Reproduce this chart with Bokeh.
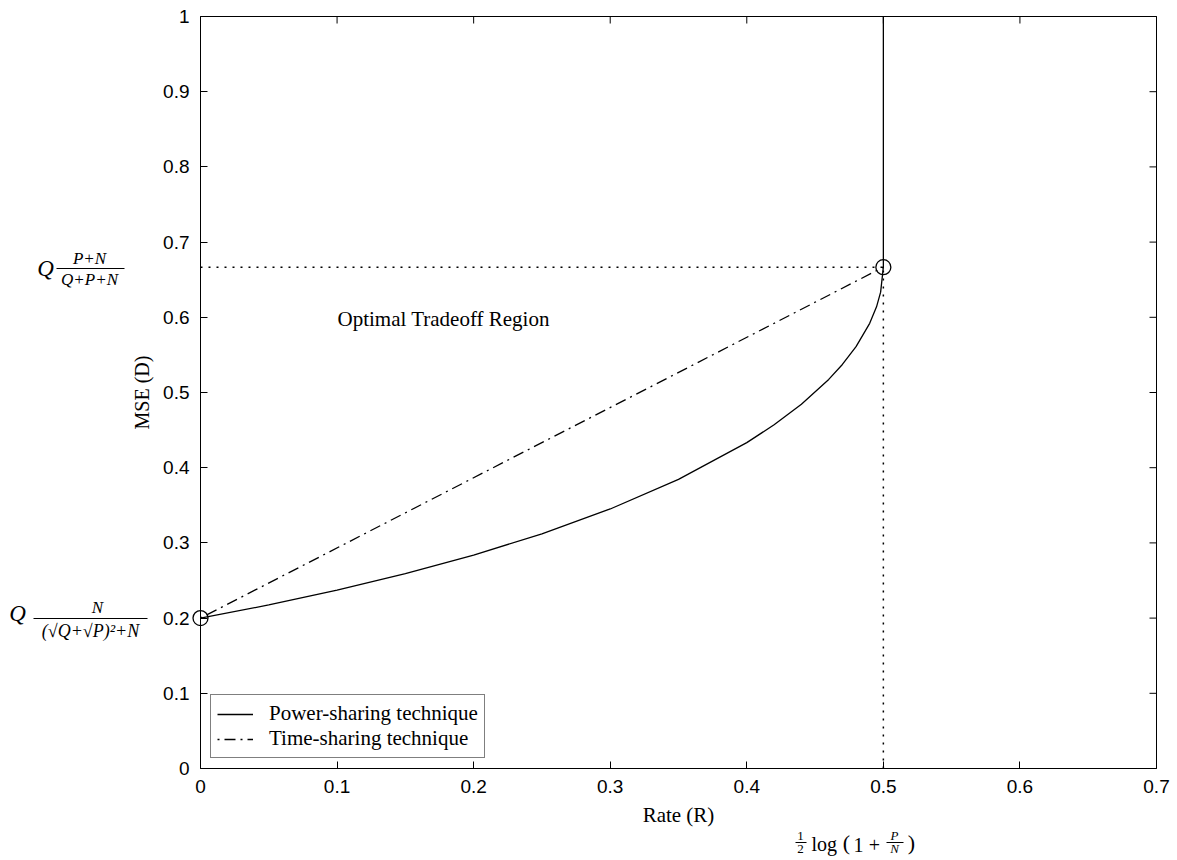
from bokeh.plotting import figure
from bokeh.models import Range1d, FixedTicker, Label, Arrow, Legend, LegendItem
from bokeh.embed import file_html
from bokeh.resources import INLINE

# ---------------- data ----------------
x_ticks = [0, 0.1, 0.2, 0.3, 0.4, 0.5, 0.6, 0.7]
y_ticks = [0, 0.1, 0.2, 0.3, 0.4, 0.5, 0.6, 0.7, 0.8, 0.9, 1.0]

rate_power = [0.0, 0.05, 0.10, 0.15, 0.20, 0.25, 0.30, 0.35, 0.40, 0.42,
              0.44, 0.46, 0.47, 0.48, 0.49, 0.495, 0.498, 0.5, 0.5]
mse_power = [0.2000, 0.2175, 0.2371, 0.2590, 0.2838, 0.3121, 0.3451, 0.3844,
             0.4334, 0.4571, 0.4845, 0.5174, 0.5373, 0.5610, 0.5920, 0.6139,
             0.6334, 0.6667, 1.0]

rate_time = [0.0, 0.5]
mse_time = [0.2, 0.6667]

corner_rate = [0.0, 0.5]
corner_mse = [0.2, 0.6667]

hline_rate = [0.0, 0.5]
hline_mse = [0.6667, 0.6667]
vline_rate = [0.5, 0.5]
vline_mse = [0.0, 0.6667]

legend_labels = ["Power-sharing technique", "Time-sharing technique"]
x_label = "Rate (R)"
y_label = "MSE (D)"
region_text = "Optimal Tradeoff Region"

X_MIN, X_MAX = 0.0, 0.7
Y_MIN, Y_MAX = 0.0, 1.0

# ---------------- geometry (page pixels of the plot box) ----------------
W, H = 1175, 858
BOX_L, BOX_T, BOX_R, BOX_B = 200, 16, 1156, 768
SX = (BOX_R - BOX_L) / (X_MAX - X_MIN)
SY = (BOX_B - BOX_T) / (Y_MAX - Y_MIN)

def X(px):
    return X_MIN + (px - BOX_L) / SX

def Y(py):
    return Y_MIN + (BOX_B - py) / SY

p = figure(width=W, height=H,
           x_range=Range1d(X(0), X(W)), y_range=Range1d(Y(H), Y(0)),
           output_backend="svg", toolbar_location=None,
           min_border_left=0, min_border_right=0,
           min_border_top=0, min_border_bottom=0)
p.xgrid.visible = False
p.ygrid.visible = False
p.outline_line_color = None
p.background_fill_color = "white"
p.border_fill_color = "white"

TICK_FONT = "Liberation Sans"
SERIF = "Liberation Serif"

for ax, ticks, bounds in ((p.xaxis[0], x_ticks, (X_MIN, X_MAX)),
                          (p.yaxis[0], y_ticks, (Y_MIN, Y_MAX))):
    ax.fixed_location = 0
    ax.bounds = bounds
    ax.ticker = FixedTicker(ticks=ticks)
    ax.minor_tick_line_color = None
    ax.major_tick_in = 7
    ax.major_tick_out = 0
    ax.axis_line_color = "black"
    ax.axis_line_width = 1
    ax.major_tick_line_color = "black"
    ax.major_label_text_font = TICK_FONT
    ax.major_label_text_font_size = "19px"
    ax.major_label_text_color = "black"
    ax.major_label_standoff = 11
p.xaxis[0].major_label_overrides = {0: "0"}
p.yaxis[0].major_label_overrides = {0: "0", 1: "1"}

# top and right edges of the box, with inward ticks
p.line([X_MIN, X_MAX], [Y_MAX, Y_MAX], line_color="black", line_width=1)
p.line([X_MAX, X_MAX], [Y_MIN, Y_MAX], line_color="black", line_width=1)
tick_len_y = 7 / SY
tick_len_x = 7 / SX
p.segment(x0=x_ticks, y0=[Y_MAX] * len(x_ticks), x1=x_ticks,
          y1=[Y_MAX - tick_len_y] * len(x_ticks), line_color="black")
p.segment(x0=[X_MAX] * len(y_ticks), y0=y_ticks,
          x1=[X_MAX - tick_len_x] * len(y_ticks), y1=y_ticks, line_color="black")

# ---------------- marks ----------------
r_power = p.line(rate_power, mse_power, line_color="black", line_width=1.3)
r_time = p.line(rate_time, mse_time, line_color="black", line_width=1.3,
                line_dash="2 5 11 5")
p.line(hline_rate, hline_mse, line_color="black", line_width=1.5, line_dash="2 6")
p.line(vline_rate, vline_mse, line_color="black", line_width=1.5, line_dash="2 6")
p.scatter(corner_rate, corner_mse, marker="circle", size=15, fill_color=None,
          line_color="black", line_width=1.3)

legend = Legend(items=[LegendItem(label=legend_labels[0], renderers=[r_power]),
                       LegendItem(label=legend_labels[1], renderers=[r_time])],
                location=(210, H - 758), label_text_font=SERIF,
                label_text_font_size="21px", label_text_color="black",
                glyph_width=36, glyph_height=18, label_height=18,
                label_standoff=16, spacing=0, padding=6, margin=0,
                border_line_color="black", border_line_width=1,
                background_fill_alpha=1)
p.add_layout(legend)

# ---------------- annotations (placed by page pixel positions) ----------------
def txt(px, py, s, size, font=SERIF, style="normal", align="center",
        baseline="middle", angle=0):
    p.add_layout(Label(x=X(px), y=Y(py), text=s, text_font=font,
                       text_font_size=f"{size}px", text_font_style=style,
                       text_align=align, text_baseline=baseline,
                       text_color="black", angle=angle))

def bar(px0, px1, py):
    p.add_layout(Arrow(end=None, x_start=X(px0), y_start=Y(py),
                       x_end=X(px1), y_end=Y(py), line_color="black",
                       line_width=1))

txt(678, 814, x_label, 21)
txt(141, 392, y_label, 20, angle=1.5707963)
txt(337, 318, region_text, 21, align="left")

# Q (P+N)/(Q+P+N)
txt(45, 268, "Q", 23, style="italic")
txt(89, 258, "P+N", 17, style="italic")
bar(56, 124, 268)
txt(89, 279, "Q+P+N", 17, style="italic")

# Q N/((sqrt Q + sqrt P)^2 + N)
txt(17, 613, "Q", 23, style="italic")
txt(97, 607, "N", 17, style="italic")
bar(33, 147, 618)
txt(90, 630, "(\u221aQ+\u221aP)\u00b2+N", 18, style="italic")

# 1/2 log(1 + P/N)
txt(800, 835, "1", 13)
bar(795, 806, 842)
txt(800, 848, "2", 13)
txt(811, 843, "log", 20, align="left")
txt(846, 842, "(", 22)
txt(858, 844, "1", 20)
txt(874, 844, "+", 20)
txt(894, 835, "P", 13, style="italic")
bar(886, 903, 842)
txt(894, 848, "N", 13, style="italic")
txt(911, 842, ")", 22)

open("out.html", "w").write(file_html(p, INLINE))
